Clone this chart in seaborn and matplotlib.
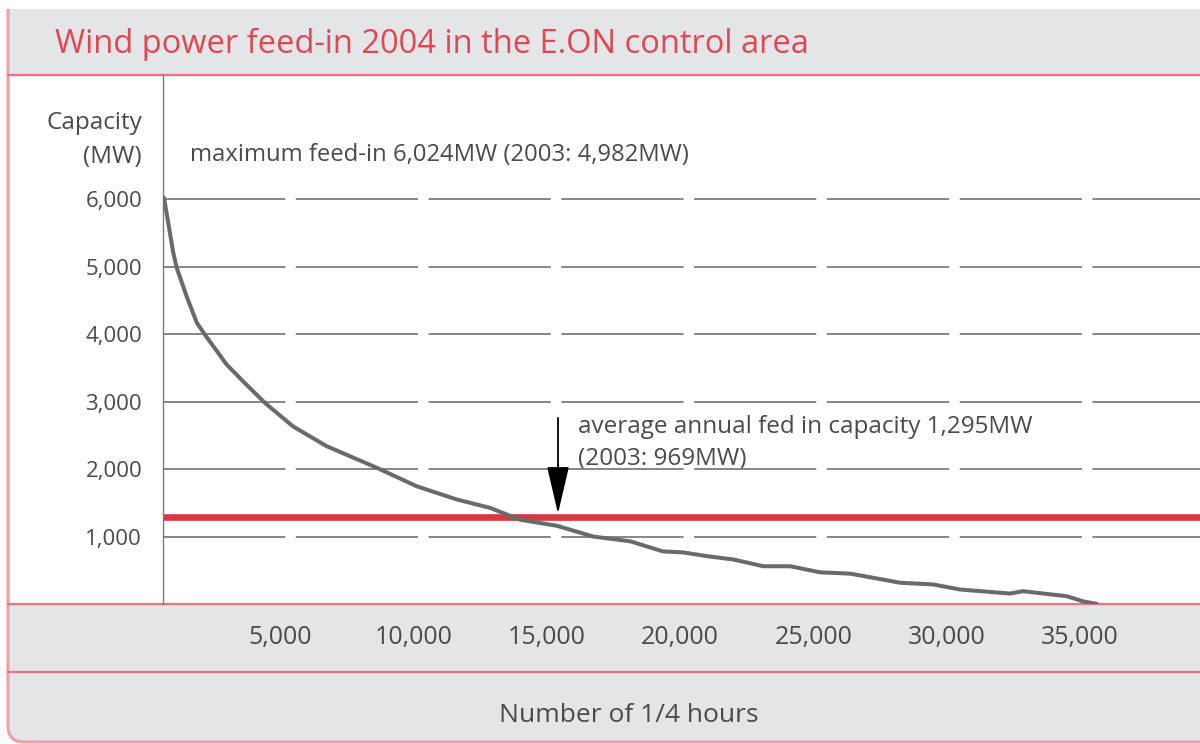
import numpy as np
import pandas as pd
import matplotlib
matplotlib.use('Agg')
import matplotlib.pyplot as plt
import seaborn as sns
from matplotlib.patches import FancyBboxPatch, Rectangle
from matplotlib.lines import Line2D

# load duration curve
quarter_hours = [650, 1000, 1130, 1500, 1880, 2190, 3000, 3620, 4440, 5500, 6750, 8630,
                 10130, 11630, 12880, 14000, 15380, 16750, 18130, 19360, 20120, 21000,
                 22000, 23120, 24130, 25250, 26380, 27500, 28250, 29490, 30500, 32380,
                 32860, 34510, 35110, 35640]
capacity_mw = [6024, 5200, 4980, 4560, 4170, 3990, 3550, 3300, 2980, 2630, 2340, 2020,
               1745, 1550, 1425, 1250, 1160, 1000, 930, 780, 765, 710,
               660, 560, 560, 470, 450, 370, 315, 290, 215, 155,
               190, 115, 40, 0]
average_mw = 1295
arrow_x = 15425
arrow_from = 2760
y_ticks = [1000, 2000, 3000, 4000, 5000, 6000]
x_ticks = [5000, 10000, 15000, 20000, 25000, 30000, 35000]

title = 'Wind power feed-in 2004 in the E.ON control area'
max_note = 'maximum feed-in 6,024MW (2003: 4,982MW)'
avg_note = 'average annual fed in capacity 1,295MW\n(2003: 969MW)'

df = pd.DataFrame({'quarter_hours': quarter_hours, 'capacity': capacity_mw})

sns.set_theme(style='white')
plt.rcParams['font.family'] = ['Open Sans', 'DejaVu Sans']
plt.rcParams['lines.scale_dashes'] = False

txt = '#4a4a4a'
band = '#e4e5e8'
red_line = '#ea747c'

fig = plt.figure(figsize=(12, 7.44), dpi=100)
fig.patch.set_facecolor('white')

# background panel drawn in pixel coordinates
bg = fig.add_axes([0, 0, 1, 1], zorder=0)
bg.set_xlim(0, 1200)
bg.set_ylim(744, 0)
bg.axis('off')
bg.add_patch(FancyBboxPatch((8, -40), 1240, 782, boxstyle='round,pad=0,rounding_size=16',
                            facecolor=band, edgecolor='#ef9ea2', lw=2.2))
bg.add_patch(Rectangle((0, 0), 1200, 9, facecolor='white', edgecolor='none'))
bg.add_patch(Rectangle((9.5, 75), 1200, 529, facecolor='white', edgecolor='none'))
for yy in [74.5, 604, 672]:
    bg.add_line(Line2D([8, 1200], [yy, yy], color=red_line, lw=1.6))
bg.text(55, 44, title, color='#e0474f', fontsize=23.5, va='center', ha='left')

ax = fig.add_axes([163 / 1200, (744 - 604) / 744, 1037 / 1200, 529 / 744], zorder=2)
ax.set_facecolor('none')

for v in y_ticks:
    ax.axhline(v, color='#7d7d7d', lw=1.3, dashes=(88, 7.6), zorder=1)
ax.axhline(average_mw, color='#dc363f', lw=4.8, zorder=2)
sns.lineplot(data=df, x='quarter_hours', y='capacity', ax=ax, color='#6a6a6a', lw=2.9,
             zorder=3, solid_joinstyle='round')

ax.annotate('', xy=(arrow_x, average_mw + 45), xytext=(arrow_x, arrow_from),
            arrowprops=dict(arrowstyle='-|>,head_length=3.0,head_width=0.7', color='black',
                            lw=1.3, shrinkA=0, shrinkB=0, mutation_scale=10), zorder=4)

ax.set_xlim(612, 39500)
ax.set_ylim(0, 7844)
ax.set_xticks(x_ticks)
ax.set_xticklabels([f'{v:,}' for v in x_ticks])
ax.set_yticks(y_ticks)
ax.set_yticklabels([f'{v:,}' for v in y_ticks])
ax.tick_params(axis='both', length=0, colors=txt)
ax.tick_params(axis='y', pad=15, labelsize=16)
ax.tick_params(axis='x', pad=15, labelsize=18)
for s in ['top', 'right', 'bottom']:
    ax.spines[s].set_visible(False)
ax.spines['left'].set_color('#7a7a7a')
ax.spines['left'].set_linewidth(1.0)

ax.set_xlabel('Number of 1/4 hours', fontsize=19, color=txt, va='center')
ax.xaxis.set_label_coords((629 - 163) / 1037, -(715 - 604) / 529)
ax.set_ylabel('Capacity\n(MW)', fontsize=17.5, color=txt, rotation=0, ha='right',
              va='center', multialignment='right', linespacing=1.55)
ax.yaxis.set_label_coords(-(163 - 142) / 1037, (604 - 140) / 529)

bg.text(190, 155, max_note, fontsize=17.2, color=txt, va='center', ha='left')
bg.text(578, 443, avg_note, fontsize=17.5, color=txt, va='center', ha='left', linespacing=1.45)

fig.savefig('out.png', dpi=100)
